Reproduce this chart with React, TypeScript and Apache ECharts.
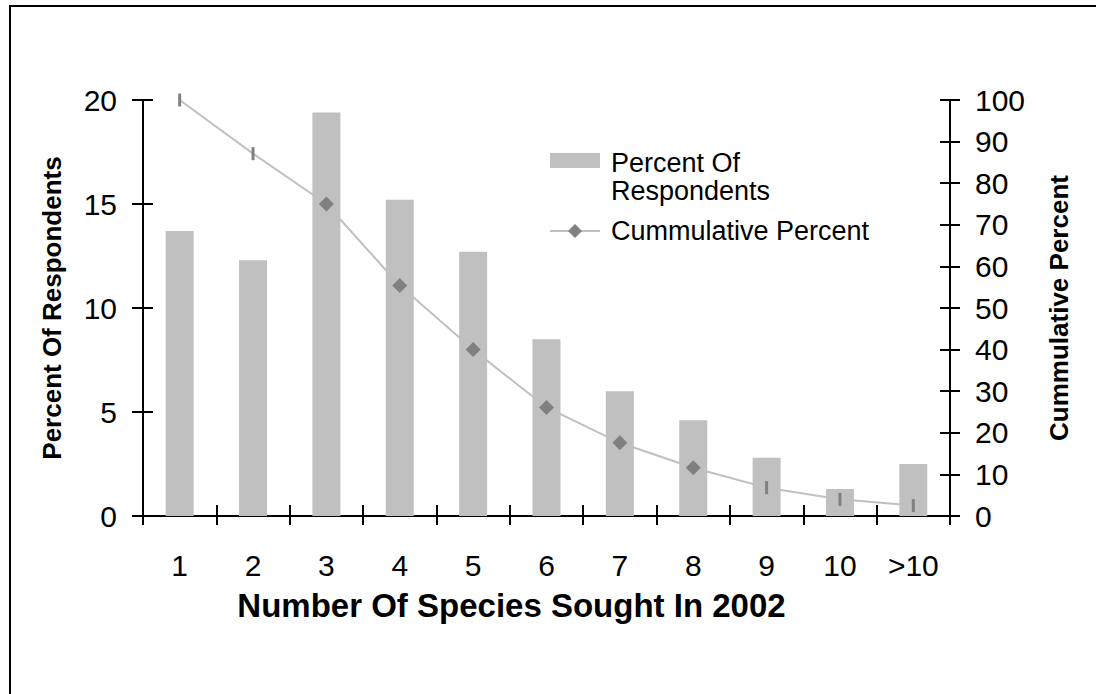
import React, { useEffect, useRef } from "react";
import * as echarts from "echarts";

const categories = ["1", "2", "3", "4", "5", "6", "7", "8", "9", "10", ">10"];
const percentRespondents = [13.7, 12.3, 19.4, 15.2, 12.7, 8.5, 6.0, 4.6, 2.8, 1.3, 2.5];
const cumulativePercent = [100, 87.1, 75.0, 55.4, 40.0, 26.1, 17.6, 11.6, 6.8, 4.0, 2.5];
const leftTicks = { min: 0, max: 20, interval: 5 };
const rightTicks = { min: 0, max: 100, interval: 10 };

const FONT = "'Liberation Sans', Arial, sans-serif";
const thinMarkers = new Set([0, 1, 8, 9, 10]);

export default function App() {
  const ref = useRef<HTMLDivElement>(null);
  useEffect(() => {
    if (!ref.current) return;
    const chart = echarts.init(ref.current, undefined, { renderer: "svg" });
    const axisLine = { show: true, lineStyle: { color: "#000", width: 2 } };
    const tickStyle = { color: "#000", width: 2 };
    const labelStyle = { color: "#000", fontSize: 30, fontFamily: FONT };
    const titleStyle = { color: "#000", fontSize: 26, fontWeight: "bold" as const, fontFamily: FONT };

    const lineData = cumulativePercent.map((v, i) =>
      thinMarkers.has(i)
        ? { value: v, symbol: "rect", symbolSize: [3, 13] }
        : { value: v, symbol: "diamond", symbolSize: 15 }
    );

    chart.setOption({
      animation: false,
      backgroundColor: "#fff",
      grid: { left: 143, top: 100, width: 807, height: 416, containLabel: false },
      xAxis: [
        {
          type: "category",
          data: categories,
          position: "bottom",
          axisLine,
          axisTick: { show: true, inside: false, length: 9, lineStyle: tickStyle },
          axisLabel: { ...labelStyle, margin: 34 },
          name: "Number Of Species Sought In 2002",
          nameLocation: "middle",
          nameGap: 73,
          nameTextStyle: { ...titleStyle, fontSize: 33, padding: [0, 70, 0, 0] },
        },
        {
          type: "category",
          data: categories,
          position: "bottom",
          axisLine: { show: false },
          axisTick: { show: true, inside: true, length: 11, lineStyle: tickStyle },
          axisLabel: { show: false },
        },
      ],
      yAxis: [
        {
          type: "value",
          position: "left",
          ...leftTicks,
          axisLine,
          axisTick: { show: true, inside: false, length: 11, lineStyle: tickStyle },
          axisLabel: { ...labelStyle, margin: 26 },
          splitLine: { show: false },
          name: "Percent Of Respondents",
          nameLocation: "middle",
          nameGap: 78,
          nameTextStyle: titleStyle,
        },
        {
          type: "value",
          position: "right",
          ...rightTicks,
          axisLine,
          axisTick: { show: true, inside: false, length: 10, lineStyle: tickStyle },
          axisLabel: { ...labelStyle, margin: 25 },
          splitLine: { show: false },
          name: "Cummulative Percent",
          nameLocation: "middle",
          nameGap: 96,
          nameTextStyle: titleStyle,
        },
        {
          type: "value",
          position: "left",
          ...leftTicks,
          axisLine: { show: false },
          axisTick: { show: true, inside: true, length: 10, lineStyle: tickStyle },
          axisLabel: { show: false },
          splitLine: { show: false },
        },
        {
          type: "value",
          position: "right",
          ...rightTicks,
          axisLine: { show: false },
          axisTick: { show: true, inside: true, length: 10, lineStyle: tickStyle },
          axisLabel: { show: false },
          splitLine: { show: false },
        },
      ],
      series: [
        {
          name: "Percent Of Respondents",
          type: "bar",
          data: percentRespondents,
          xAxisIndex: 0,
          yAxisIndex: 0,
          barWidth: 28,
          itemStyle: { color: "#c0c0c0" },
        },
        {
          name: "Cummulative Percent",
          type: "line",
          data: lineData,
          xAxisIndex: 0,
          yAxisIndex: 1,
          lineStyle: { color: "#c0c0c0", width: 2 },
          itemStyle: { color: "#808080" },
          z: 3,
        },
      ],
      graphic: [
        {
          type: "rect",
          shape: { x: 10, y: 6, width: 1200, height: 900 },
          style: { fill: "none", stroke: "#000", lineWidth: 2 },
          silent: true,
        },
        {
          type: "rect",
          shape: { x: 550, y: 153, width: 50, height: 15 },
          style: { fill: "#c0c0c0" },
        },
        {
          type: "text",
          x: 611,
          y: 163,
          style: { text: "Percent Of", fill: "#000", font: `27px ${FONT}`, verticalAlign: "middle" },
        },
        {
          type: "text",
          x: 611,
          y: 191,
          style: { text: "Respondents", fill: "#000", font: `27px ${FONT}`, verticalAlign: "middle" },
        },
        {
          type: "line",
          shape: { x1: 550, y1: 231, x2: 600, y2: 231 },
          style: { stroke: "#c0c0c0", lineWidth: 2 },
        },
        {
          type: "polygon",
          shape: { points: [[575, 224], [582, 231], [575, 238], [568, 231]] },
          style: { fill: "#808080" },
        },
        {
          type: "text",
          x: 611,
          y: 231,
          style: { text: "Cummulative Percent", fill: "#000", font: `27px ${FONT}`, verticalAlign: "middle" },
        },
      ],
    });
    return () => chart.dispose();
  }, []);
  return (
    <div
      ref={ref}
      style={{ position: "absolute", left: 0, top: 0, width: 1096, height: 694 }}
    />
  );
}
